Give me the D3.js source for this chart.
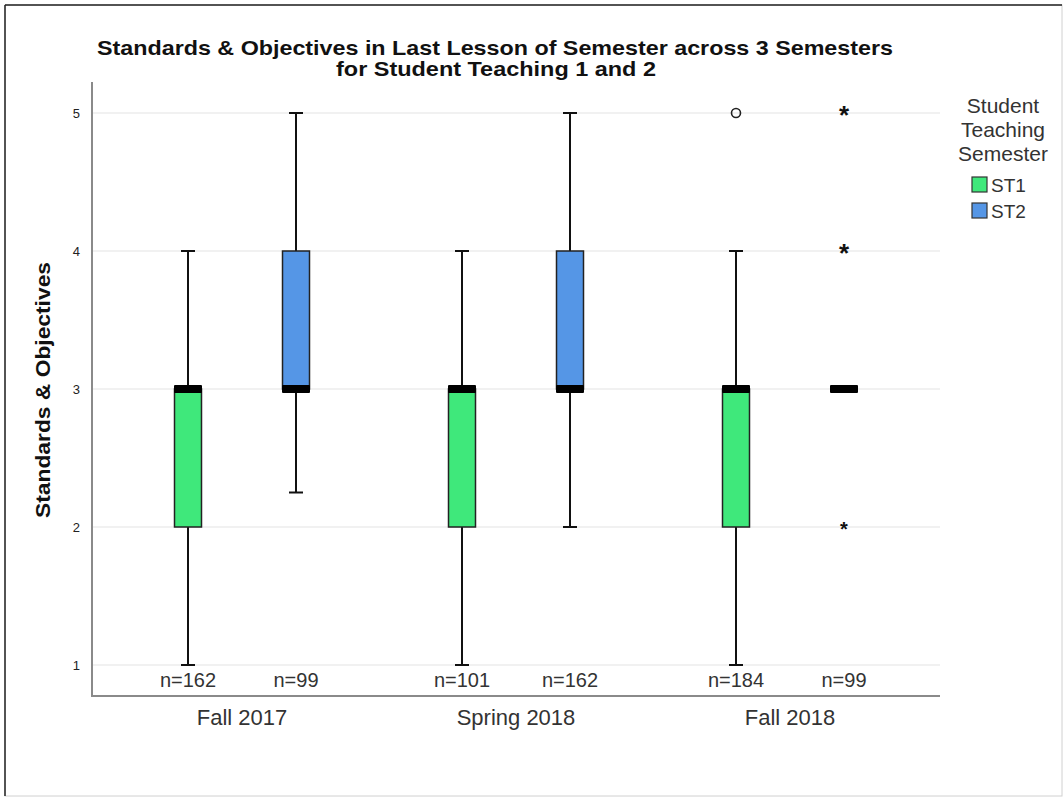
<!DOCTYPE html>
<html><head><meta charset="utf-8">
<script src="https://cdn.jsdelivr.net/npm/d3@7"></script>
<style>body{margin:0;background:#fff}svg{display:block}text{font-family:Arial,"Liberation Sans",sans-serif}</style>
</head><body><svg id="c" width="1063" height="797"></svg>
<script>
const semesters = ["Fall 2017", "Spring 2018", "Fall 2018"];
const groups = ["ST1", "ST2"];
const groupColors = ["#3FE87B", "#5596E6"];
// [min, q1, median, q3, max] per semester per group
const st1Stats = [[1,2,3,3,4],[1,2,3,3,4],[1,2,3,3,4]];
const st2Stats = [[2.25,3,3,4,5],[2,3,3,4,5],[3,3,3,3,3]];
const st1N = [162, 101, 184];
const st2N = [99, 162, 99];
const st1Outliers = [[],[],[5]];
const st2Extremes = [[],[],[5,4,2]];
const yTicks = [1,2,3,4,5];

const svg = d3.select("#c");
// frame
svg.append("rect").attr("x",5).attr("y",5).attr("width",1057).attr("height",791).attr("fill","#fff").attr("stroke","#d0d0d0");
svg.append("line").attr("x1",5).attr("x2",5).attr("y1",5).attr("y2",796).attr("stroke","#222").attr("stroke-width",1.5);
svg.append("line").attr("x1",5).attr("x2",1062).attr("y1",5).attr("y2",5).attr("stroke","#222").attr("stroke-width",1.5);

const L=92, R=940, T=82, B=696;
const y = d3.scaleLinear().domain([1,5]).range([665,113]);
const x0 = d3.scaleBand().domain(semesters).range([105, 927]).padding(0);
const x1 = d3.scaleBand().domain(groups).range([29, 245]).padding(0);

// gridlines
svg.append("g").selectAll("line").data(yTicks).join("line")
  .attr("x1",L).attr("x2",R).attr("y1",d=>y(d)).attr("y2",d=>y(d))
  .attr("stroke","#e3e3e3").attr("stroke-width",1.2);

// axes
const yAxis = d3.axisLeft(y).tickValues(yTicks).tickSize(0).tickPadding(12).tickFormat(d3.format("d"));
const gy = svg.append("g").attr("transform",`translate(${L},0)`).call(yAxis);
gy.select(".domain").remove();
gy.selectAll("text").attr("font-size",13).attr("fill","#222");
svg.append("line").attr("x1",L).attr("x2",L).attr("y1",T).attr("y2",B+1).attr("stroke","#8a8a8a").attr("stroke-width",2);
const xAxis = d3.axisBottom(x0).tickSize(0).tickPadding(0);
const gx = svg.append("g").attr("transform",`translate(0,${B})`).call(xAxis);
gx.select(".domain").remove();
gx.selectAll("text").attr("font-size",22).attr("fill","#333").attr("dy",null).attr("y",29);
svg.append("line").attr("x1",L-1).attr("x2",R).attr("y1",B).attr("y2",B).attr("stroke","#8a8a8a").attr("stroke-width",2);

const boxW = 27, capW = 14;
const allStats = [st1Stats, st2Stats], allN=[st1N, st2N];
groups.forEach((g,gi)=>{
  semesters.forEach((s,si)=>{
    const [mn,q1,md,q3,mx] = allStats[gi][si];
    const cx = x0(s) + x1(g) + x1.bandwidth()/2;
    const gg = svg.append("g");
    gg.append("line").attr("x1",cx).attr("x2",cx).attr("y1",y(mx)).attr("y2",y(mn)).attr("stroke","#111").attr("stroke-width",2);
    if (mx>q3) gg.append("line").attr("x1",cx-capW/2).attr("x2",cx+capW/2).attr("y1",y(mx)).attr("y2",y(mx)).attr("stroke","#111").attr("stroke-width",2);
    if (mn<q1) gg.append("line").attr("x1",cx-capW/2).attr("x2",cx+capW/2).attr("y1",y(mn)).attr("y2",y(mn)).attr("stroke","#111").attr("stroke-width",2);
    if (q3>q1) gg.append("rect").attr("x",cx-boxW/2).attr("y",y(q3)).attr("width",boxW).attr("height",y(q1)-y(q3))
      .attr("fill",groupColors[gi]).attr("stroke","#222").attr("stroke-width",1.5);
    gg.append("rect").attr("x",cx-boxW/2-0.5).attr("y",y(md)-4).attr("width",boxW+1).attr("height",8).attr("fill","#000").attr("rx",1);
    svg.append("text").attr("x",cx).attr("y",687).attr("text-anchor","middle").attr("font-size",20).attr("fill","#333").text("n="+allN[gi][si]);
  });
});
semesters.forEach((s,si)=>{
  const cx1 = x0(s)+x1("ST1")+x1.bandwidth()/2;
  st1Outliers[si].forEach(v=>{
    svg.append("circle").attr("cx",cx1).attr("cy",y(v)).attr("r",4.5).attr("fill","none").attr("stroke","#222").attr("stroke-width",1.6);
  });
  const cx2 = x0(s)+x1("ST2")+x1.bandwidth()/2;
  st2Extremes[si].forEach(v=>{
    svg.append("text").attr("x",cx2).attr("y",y(v)+(v===2?9:11)).attr("text-anchor","middle").attr("font-size",v===2?20:26).attr("font-weight","bold").attr("fill","#111").text("*");
  });
});

// title
svg.append("text").attr("x",495).attr("y",55).attr("text-anchor","middle").attr("font-size",21).attr("font-weight","bold").attr("fill","#111")
  .attr("textLength",796).attr("lengthAdjust","spacingAndGlyphs")
  .text("Standards & Objectives in Last Lesson of Semester across 3 Semesters");
svg.append("text").attr("x",496).attr("y",76).attr("text-anchor","middle").attr("font-size",21).attr("font-weight","bold").attr("fill","#111")
  .attr("textLength",320).attr("lengthAdjust","spacingAndGlyphs")
  .text("for Student Teaching 1 and 2");
// y title
svg.append("text").attr("transform","translate(50,390) rotate(-90)").attr("text-anchor","middle").attr("font-size",21).attr("font-weight","bold").attr("fill","#111")
  .attr("textLength",256).attr("lengthAdjust","spacingAndGlyphs")
  .text("Standards & Objectives");

// legend
[["Student",113],["Teaching",137],["Semester",161]].forEach(([t,yy])=>{
  svg.append("text").attr("x",1003).attr("y",yy).attr("text-anchor","middle").attr("font-size",21).attr("fill","#333").text(t);
});
groups.forEach((g,i)=>{
  svg.append("rect").attr("x",972).attr("y",177+i*26).attr("width",15).attr("height",15).attr("fill",groupColors[i]).attr("stroke","#333").attr("stroke-width",1.2);
  svg.append("text").attr("x",991).attr("y",192+i*26).attr("font-size",19).attr("fill","#333").text(g);
});
</script></body></html>
